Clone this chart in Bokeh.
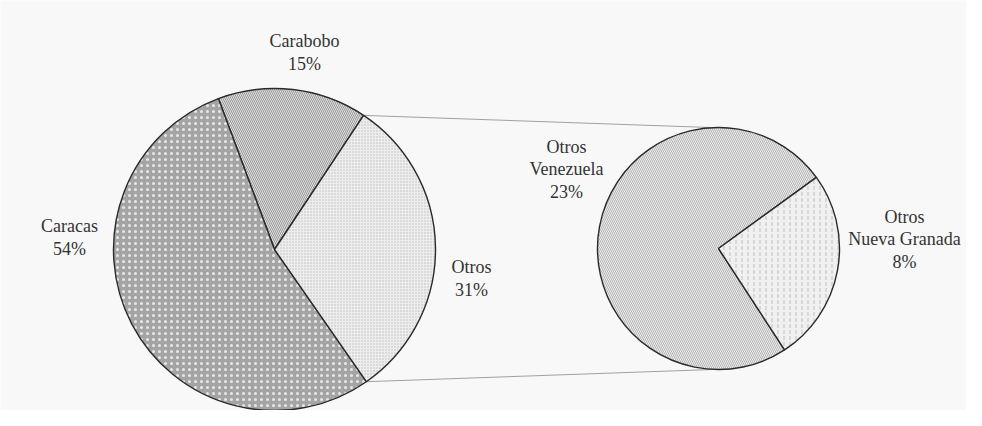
import math
from bokeh.plotting import figure
from bokeh.models import Range1d
from bokeh.core.properties import value
from bokeh.embed import file_html
from bokeh.resources import INLINE

# ---- data ----
main_labels = ["Caracas", "Carabobo", "Otros"]
main_values = [54, 15, 31]
sub_labels = ["Otros\nVenezuela", "Otros\nNueva Granada"]
sub_values = [23, 8]

# ---- layout / style ----
IMG_H = 426
def Y(y):
    return IMG_H - y

C1 = (282, Y(257)); R1 = 161
C2 = (726, Y(256)); R2 = 121
start1 = math.radians(56.4)   # anticlockwise order: Carabobo, Caracas, Otros
order1 = [1, 0, 2]
start2 = math.radians(36.0)   # anticlockwise order: Venezuela, Nueva Granada
order2 = [0, 1]

styles1 = {
    0: dict(fill_color="#a4a4a4", hatch_pattern="dot", hatch_color="#efefef", hatch_scale=6, hatch_weight=1.1, hatch_alpha=0.9),
    1: dict(fill_color="#e0e0e0", hatch_pattern="left_diagonal_line", hatch_color="#909090", hatch_scale=4, hatch_weight=0.9, hatch_alpha=1.0),
    2: dict(fill_color="#ededed", hatch_pattern="dot", hatch_color="#b0b0b0", hatch_scale=3, hatch_weight=0.6, hatch_alpha=0.8),
}
styles2 = {
    0: dict(fill_color="#ececec", hatch_pattern="left_diagonal_line", hatch_color="#a6a6a6", hatch_scale=4, hatch_weight=0.8, hatch_alpha=1.0),
    1: dict(fill_color="#f0f0f0", hatch_pattern="vertical_dash", hatch_color="#b4b4b4", hatch_scale=6, hatch_weight=0.8, hatch_alpha=1.0),
}

label_pos1 = {0: (77, Y(245)), 1: (312, Y(60)), 2: (479, Y(286))}
label_pos2 = {0: (574, Y(177)), 1: (912, Y(247))}

W, H = 966, 410
p = figure(width=W, height=H, x_range=Range1d(8, 8 + W), y_range=Range1d(Y(8 + H), Y(8)),
           output_backend="svg", toolbar_location=None, min_border=0,
           background_fill_color="#f8f8f8", border_fill_color="#f8f8f8")
p.axis.visible = False
p.grid.visible = False
p.outline_line_color = None

tot1 = sum(main_values)
tot2 = sum(sub_values)

# big pie angles
angles1 = {}
a = start1
for i in order1:
    span = main_values[i] / tot1 * 2 * math.pi
    angles1[i] = (a, a + span)
    a += span

# connectors (from edges of "Otros" slice to top / bottom of small pie)
a_top = angles1[2][1]
a_bot = angles1[2][0]
p.line([C1[0] + R1 * math.cos(a_top), C2[0] - 8], [C1[1] + R1 * math.sin(a_top), C2[1] + R2],
       line_color="#a0a0a0", line_width=1)
p.line([C1[0] + R1 * math.cos(a_bot), C2[0] - 6], [C1[1] + R1 * math.sin(a_bot), C2[1] - R2],
       line_color="#a0a0a0", line_width=1)

for i in order1:
    s, e = angles1[i]
    p.wedge(x=[C1[0]], y=[C1[1]], radius=[R1], start_angle=[s], end_angle=[e],
            line_color="#2a2a2a", line_width=1.4, **styles1[i])

a = start2
for i in order2:
    span = sub_values[i] / tot2 * 2 * math.pi
    p.wedge(x=[C2[0]], y=[C2[1]], radius=[R2], start_angle=[a], end_angle=[a + span],
            line_color="#2a2a2a", line_width=1.4, **styles2[i])
    a += span

txt = dict(text_font=value("Liberation Serif"), text_font_size="18px", text_color="#333333",
           text_align="center", text_baseline="middle", text_line_height=1.12)
for i in range(len(main_labels)):
    x, y = label_pos1[i]
    p.text(x=[x], y=[y], text=[f"{main_labels[i]}\n{main_values[i]}%"], **txt)
for i in range(len(sub_labels)):
    x, y = label_pos2[i]
    p.text(x=[x], y=[y], text=[f"{sub_labels[i]}\n{sub_values[i]}%"], **txt)

open("out.html", "w").write(file_html(p, INLINE))
